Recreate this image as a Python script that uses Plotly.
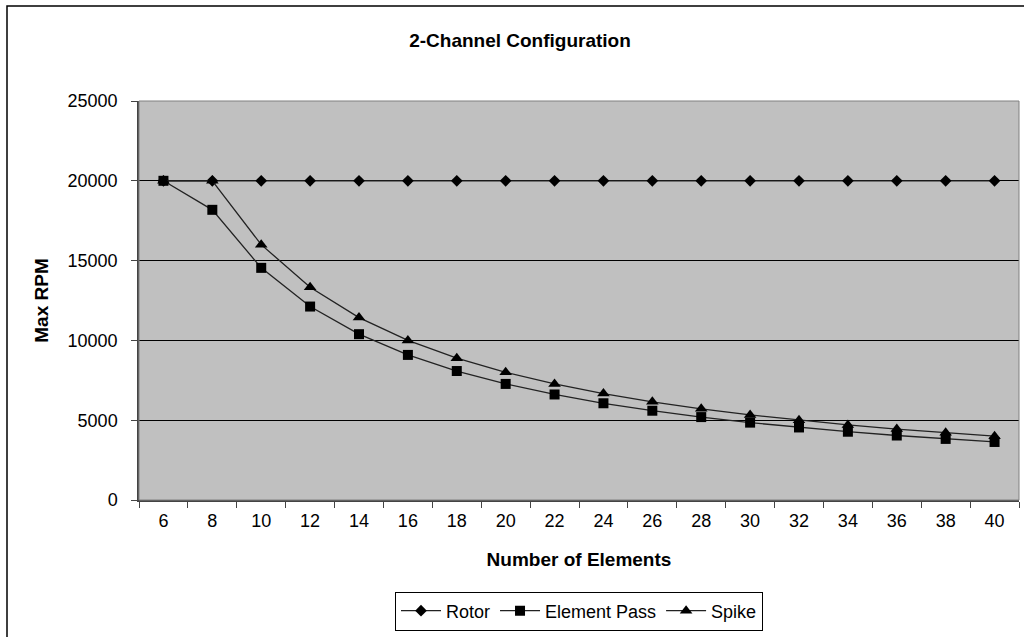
import plotly.graph_objects as go

elements = [6, 8, 10, 12, 14, 16, 18, 20, 22, 24, 26, 28, 30, 32, 34, 36, 38, 40]
rotor = [20000] * 18
element_pass = [20000, 18182, 14545, 12121, 10390, 9091, 8081, 7273, 6612, 6061,
                5594, 5195, 4848, 4545, 4278, 4040, 3828, 3636]
spike = [20000, 20000, 16000, 13333, 11429, 10000, 8889, 8000, 7273, 6667,
         6154, 5714, 5333, 5000, 4706, 4444, 4211, 4000]
y_ticks = [0, 5000, 10000, 15000, 20000, 25000]
y_tick_labels = ["0", "5000", "10000", "15000", "20000", "25000"]

cats = [str(e) for e in elements]
FONT = "Liberation Sans, Arial, sans-serif"

fig = go.Figure()
fig.add_trace(go.Scatter(x=cats, y=rotor, name="Rotor", mode="lines+markers",
                         line=dict(color="#222222", width=1.3),
                         marker=dict(symbol="diamond", size=9, color="black")))
fig.add_trace(go.Scatter(x=cats, y=element_pass, name="Element Pass", mode="lines+markers",
                         line=dict(color="#222222", width=1.3),
                         marker=dict(symbol="square", size=10, color="black")))
fig.add_trace(go.Scatter(x=cats, y=spike, name="Spike", mode="lines+markers",
                         line=dict(color="#222222", width=1.3),
                         marker=dict(symbol="triangle-up", size=11, color="black")))

L, R, T, B = 139, 1019, 101, 500
W, H = 1024, 637
pw, ph = R - L, B - T

def px(x):
    return (x - L) / pw

def py(y):
    return (B - y) / ph

fig.update_layout(
    width=W, height=H,
    margin=dict(l=L, r=W - R, t=T, b=H - B, pad=0),
    paper_bgcolor="white",
    plot_bgcolor="#c0c0c0",
    font=dict(family=FONT, size=17, color="black"),
    title=dict(text="<b>2-Channel Configuration</b>", xref="container", x=520 / W,
               xanchor="center", yref="container", y=1 - 40 / H, yanchor="middle",
               font=dict(size=19)),
    showlegend=True,
    legend=dict(orientation="h", x=px(579), xanchor="center", y=py(611), yanchor="middle",
                bordercolor="black", borderwidth=1, bgcolor="white",
                font=dict(size=18), itemwidth=40, tracegroupgap=0),
    xaxis=dict(type="category", range=[-0.5, 17.5], showgrid=False,
               ticks="outside", tickson="boundaries", ticklen=6, tickcolor="#444444",
               showline=True, linecolor="#444444", linewidth=1.5,
               tickfont=dict(size=18), zeroline=False, ticklabelstandoff=4,
               title=dict(text="<b>Number of Elements</b>", font=dict(size=19), standoff=22)),
    yaxis=dict(range=[0, 25000], tickvals=y_ticks, ticktext=y_tick_labels,
               showgrid=True, gridcolor="black",
               gridwidth=1, ticks="outside", ticklen=6, tickcolor="#444444",
               showline=True, linecolor="#444444", linewidth=1.5,
               tickfont=dict(size=18), zeroline=False, ticklabelstandoff=10,
               title=dict(text="<b>Max RPM</b>", font=dict(size=19), standoff=14)),
)

# plot area border (gray) and outer chart border
fig.add_shape(type="rect", xref="paper", yref="paper", x0=0, x1=1, y0=0, y1=1,
              line=dict(color="#808080", width=1), layer="above")
fig.add_shape(type="rect", xref="paper", yref="paper",
              x0=px(7), x1=px(1030), y0=py(645), y1=py(6),
              line=dict(color="black", width=1.5), layer="above")

fig.write_html("out.html", config={"displayModeBar": False},
               post_script="document.body.style.margin='0';document.body.style.padding='0';")
